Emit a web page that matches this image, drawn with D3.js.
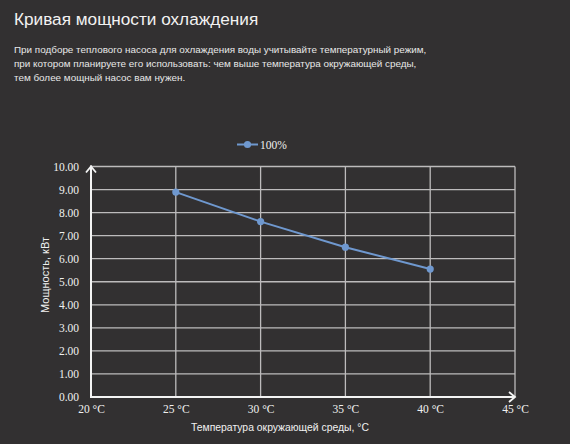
<!DOCTYPE html>
<html><head><meta charset="utf-8">
<script src="https://cdn.jsdelivr.net/npm/d3@7/dist/d3.min.js"></script>
<style>
html,body{margin:0;padding:0;background:#323031;}
svg{display:block;}
</style></head>
<body>
<svg id="c" width="570" height="444"></svg>
<script>
const temperatures = [25, 30, 35, 40];
const power100 = [8.89, 7.61, 6.5, 5.55];
const xTicks = [20, 25, 30, 35, 40, 45];
const yTicks = [0,1,2,3,4,5,6,7,8,9,10];
const seriesName = "100%";
const titleText = "Кривая мощности охлаждения";
const descLines = [
  "При подборе теплового насоса для охлаждения воды учитывайте температурный режим,",
  "при котором планируете его использовать: чем выше температура окружающей среды,",
  "тем более мощный насос вам нужен."
];
const xTitle = "Температура окружающей среды, °С";
const yTitle = "Мощность, кВт";

const svg = d3.select("#c");
svg.append("rect").attr("width",570).attr("height",444).attr("fill","#323031");

const sans = "'Liberation Sans', Arial, sans-serif";
const serif = "'Liberation Serif', 'Times New Roman', serif";

svg.append("text").attr("x",14).attr("y",25).attr("fill","#f2f2f2")
  .attr("font-family",sans).attr("font-size",17.2).text(titleText);
svg.selectAll("text.desc").data(descLines).join("text").attr("class","desc")
  .attr("x",14).attr("y",(d,i)=>52.5+i*14.4).attr("fill","#e8e8e8")
  .attr("font-family",sans).attr("font-size",9.9).text(d=>d);

const x = d3.scaleLinear().domain([20,45]).range([91,515]);
const y = d3.scaleLinear().domain([0,10]).range([397,166.5]);

const grid = svg.append("g");
grid.selectAll("line.h").data(yTicks.filter(d=>d>0)).join("line")
  .attr("x1",91).attr("x2",515).attr("y1",d=>y(d)).attr("y2",d=>y(d))
  .attr("stroke","#bdbbbc").attr("stroke-width",1.3);
grid.selectAll("line.v").data(xTicks.filter(d=>d>20)).join("line")
  .attr("y1",y(0)).attr("y2",y(10)).attr("x1",d=>x(d)).attr("x2",d=>x(d))
  .attr("stroke","#bdbbbc").attr("stroke-width",1.3);

// axes
const axY = svg.append("g").attr("transform",`translate(91,0)`)
  .call(d3.axisLeft(y).tickValues(yTicks).tickSize(0).tickPadding(12).tickFormat(d3.format(".2f")));
axY.select(".domain").remove();
axY.selectAll("text").attr("fill","#f0f0f0").attr("font-family",serif).attr("font-size",11.5);

const axX = svg.append("g").attr("transform",`translate(0,${y(0)})`)
  .call(d3.axisBottom(x).tickValues(xTicks).tickSize(0).tickPadding(8).tickFormat(d=>d+" °C"));
axX.select(".domain").remove();
axX.selectAll("text").attr("fill","#f0f0f0").attr("font-family",serif).attr("font-size",11.5);

svg.append("line").attr("x1",91).attr("x2",91).attr("y1",y(0)).attr("y2",y(10)-1)
  .attr("stroke","#f4f4f4").attr("stroke-width",2);
svg.append("line").attr("x1",90).attr("x2",515).attr("y1",y(0)).attr("y2",y(0))
  .attr("stroke","#f4f4f4").attr("stroke-width",2);
svg.append("path").attr("d",`M${91-5},${y(10)+6}L91,${y(10)}L${91+5},${y(10)+6}`)
  .attr("fill","none").attr("stroke","#f4f4f4").attr("stroke-width",1.8);
svg.append("path").attr("d",`M509,${y(0)-5}L515,${y(0)}L509,${y(0)+5}`)
  .attr("fill","none").attr("stroke","#f4f4f4").attr("stroke-width",1.8);

// series
const pts = temperatures.map((t,i)=>[t,power100[i]]);
const col = "#6f98cf";
svg.append("path").datum(pts).attr("fill","none").attr("stroke",col).attr("stroke-width",2)
  .attr("d",d3.line().x(d=>x(d[0])).y(d=>y(d[1])));
svg.selectAll("circle.pt").data(pts).join("circle").attr("class","pt")
  .attr("cx",d=>x(d[0])).attr("cy",d=>y(d[1])).attr("r",3.6).attr("fill",col);

// legend
const lg = svg.append("g");
lg.append("line").attr("x1",237).attr("x2",258).attr("y1",144.5).attr("y2",144.5).attr("stroke",col).attr("stroke-width",2);
lg.append("circle").attr("cx",247.5).attr("cy",144.5).attr("r",3.6).attr("fill",col);
lg.append("text").attr("x",260).attr("y",148.5).attr("fill","#f0f0f0").attr("font-family",serif)
  .attr("font-size",11.5).text(seriesName);

// axis titles
svg.append("text").attr("x",280).attr("y",431).attr("text-anchor","middle").attr("fill","#f0f0f0")
  .attr("font-family",sans).attr("font-size",10.4).text(xTitle);
svg.append("text").attr("transform","translate(49,275) rotate(-90)").attr("text-anchor","middle")
  .attr("fill","#f0f0f0").attr("font-family",sans).attr("font-size",11).text(yTitle);
</script>
</body></html>
